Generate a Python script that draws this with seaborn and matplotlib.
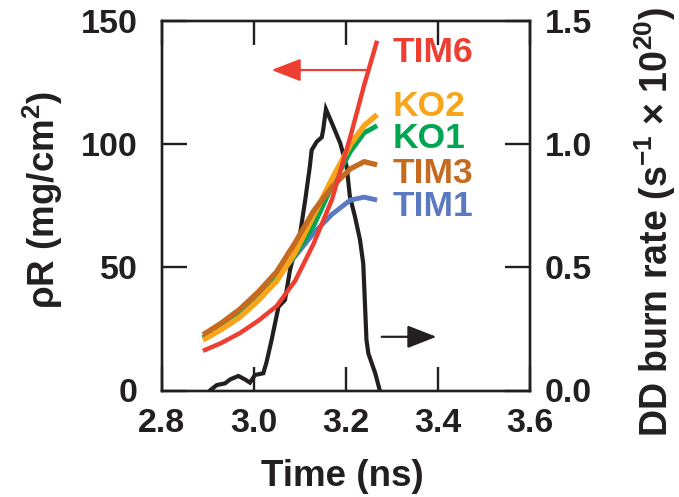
import matplotlib
matplotlib.use("Agg")
import matplotlib.pyplot as plt
import seaborn as sns
import pandas as pd

# ---------------- data ----------------
time_ns = [2.89, 2.93, 2.97, 3.01, 3.05, 3.09, 3.13, 3.17, 3.21, 3.24, 3.268]
tim1 = [21.4, 25.8, 30.8, 37.2, 45.5, 54.5, 63.8, 71.5, 77.3, 78.5, 77.3]
ko1 = [21.4, 25.5, 30.5, 37.0, 45.5, 55.0, 66.7, 83.0, 97.0, 104.6, 107.5]
ko2 = [20.5, 24.8, 29.8, 36.5, 44.5, 56.0, 71.0, 85.8, 99.8, 107.5, 112.0]
tim3 = [22.6, 27.4, 33.0, 40.0, 48.2, 60.0, 72.8, 82.6, 90.0, 92.9, 91.6]
tim6 = [16.1, 19.3, 23.3, 28.3, 34.3, 44.5, 59.5, 77.5, 103.0, 124.0, 142.0]

burn_time = [2.905, 2.920, 2.938, 2.949, 2.967, 2.981, 2.992, 3.003, 3.021, 3.028,
             3.039, 3.054, 3.068, 3.079, 3.090, 3.101, 3.112, 3.122, 3.126, 3.137,
             3.148, 3.151, 3.157, 3.170, 3.188, 3.202, 3.209, 3.220, 3.231, 3.238,
             3.245, 3.249, 3.264, 3.274]
burn_rate = [0.0, 0.022, 0.029, 0.045, 0.059, 0.045, 0.032, 0.063, 0.070, 0.115,
             0.205, 0.340, 0.367, 0.489, 0.570, 0.638, 0.773, 0.909, 0.976, 1.010,
             1.028, 1.058, 1.142, 1.085, 1.004, 0.909, 0.787, 0.706, 0.611, 0.515,
             0.205, 0.151, 0.070, 0.0]

series_names = ["TIM1", "KO1", "KO2", "TIM3", "TIM6"]
series_values = [tim1, ko1, ko2, tim3, tim6]
colors = {"TIM6": "#EE3E32", "KO2": "#F9A51B", "KO1": "#00A651",
          "TIM3": "#C56A1E", "TIM1": "#5B79C0"}
widths = {"TIM6": 3.2, "KO2": 4.0, "KO1": 3.5, "TIM3": 3.8, "TIM1": 3.5}
label_base = {"TIM6": 62.5, "KO2": 116.5, "KO1": 147.5, "TIM3": 183, "TIM1": 216.5}

x_ticks = [2.8, 3.0, 3.2, 3.4, 3.6]
y_ticks = [0, 50, 100, 150]
y2_ticks = [0.0, 0.5, 1.0, 1.5]

# ---------------- style ----------------
sns.set_theme(style="ticks")
dark = "#231F20"
plt.rcParams["font.family"] = ["Liberation Sans", "DejaVu Sans"]
plt.rcParams["font.weight"] = "bold"
plt.rcParams["mathtext.fontset"] = "custom"
plt.rcParams["mathtext.rm"] = "Liberation Sans"
plt.rcParams["mathtext.it"] = "Liberation Sans:italic"
plt.rcParams["mathtext.bf"] = "Liberation Sans:bold"
plt.rcParams["axes.edgecolor"] = dark
plt.rcParams["text.color"] = dark

W, H = 679, 497
fig = plt.figure(figsize=(W / 100, H / 100), dpi=100)
L, R, T, B = 161.5, 530.0, 21.0, 390.5
ax = fig.add_axes([L / W, 1 - B / H, (R - L) / W, (B - T) / H])
ax2 = ax.twinx()
ax.set_zorder(ax2.get_zorder() + 1)
ax.patch.set_visible(False)

# burn rate (right axis)
burn_df = pd.DataFrame({"time": burn_time, "rate": burn_rate})
sns.lineplot(data=burn_df, x="time", y="rate", ax=ax2, color=dark,
             estimator=None, sort=False, linewidth=3.0)
for ln in ax2.lines:
    ln.set_linewidth(3.0)
    ln.set_solid_joinstyle("miter")

# rho-R curves (left axis)
long = pd.DataFrame({
    "time": time_ns * len(series_names),
    "rhoR": [v for vals in series_values for v in vals],
    "shot": [n for n in series_names for _ in time_ns],
})
for name in series_names:
    sub = long[long["shot"] == name]
    sns.lineplot(data=sub, x="time", y="rhoR", ax=ax, color=colors[name],
                 estimator=None, sort=False, linewidth=widths[name])
    ax.lines[-1].set_linewidth(widths[name])
    ax.lines[-1].set_solid_capstyle("butt")

ax.set_xlim(2.8, 3.6)
ax.set_ylim(0, 150)
ax2.set_ylim(0, 1.5)
ax.set_xticks(x_ticks)
ax.set_xticklabels(["2.8", "3.0", "3.2", "3.4", "3.6"])
ax.set_yticks(y_ticks)
ax.set_yticklabels([str(v) for v in y_ticks])
ax2.set_yticks(y2_ticks)
ax2.set_yticklabels([f"{v:.1f}" for v in y2_ticks])
ax.set_xlabel("")
ax.set_ylabel("")
ax2.set_ylabel("")

for a in (ax, ax2):
    for s in a.spines.values():
        s.set_linewidth(1.7)
        s.set_color(dark)
        s.set_visible(True)

ax.tick_params(axis="x", direction="in", length=17, width=1.7, color=dark,
               top=True, bottom=True, labelsize=24.5, pad=12.5)
ax.tick_params(axis="y", direction="in", length=18, width=1.7, color=dark,
               left=True, right=False, labelsize=24.5, pad=17)
ax2.tick_params(axis="y", direction="in", length=18, width=1.7, color=dark,
                right=True, left=False, labelsize=24.5, pad=10.8)
for lab in ax.get_xticklabels() + ax.get_yticklabels() + ax2.get_yticklabels():
    lab.set_fontweight("bold")
    lab.set_color(dark)

# series labels
for name in series_names:
    fig.text(393 / W, 1 - label_base[name] / H, name, color=colors[name],
             fontsize=25.5, fontweight="bold", ha="left", va="baseline")

# arrows
ax.annotate("", xy=(3.039, 130.1), xytext=(3.244, 130.1),
            arrowprops=dict(arrowstyle="-|>,head_length=1.8,head_width=0.7",
                            mutation_scale=10, color=colors["TIM6"], lw=1.6,
                            shrinkA=0, shrinkB=0))
ax.annotate("", xy=(3.397, 21.8), xytext=(3.278, 21.8),
            arrowprops=dict(arrowstyle="-|>,head_length=1.8,head_width=0.7",
                            mutation_scale=10, color=dark, lw=1.6,
                            shrinkA=0, shrinkB=0))

# axis labels
fig.text(342 / W, 1 - 477 / H, "Time (ns)", fontsize=26.5, fontweight="bold",
         ha="center", va="center")
fig.text(43 / W, 1 - 200 / H, r"$\mathrm{\rho}$R (mg/cm$^{\mathbf{2}}$)",
         fontsize=26.5, fontweight="bold", rotation=90, ha="center", va="center")
fig.text(655 / W, 1 - 222 / H,
         r"DD burn rate (s$^{\mathbf{-1}}$ $\mathrm{\times}$ 10$^{\mathbf{20}}$)",
         fontsize=27, fontweight="bold", rotation=90, ha="center", va="center")

fig.savefig("out.png", dpi=100)
